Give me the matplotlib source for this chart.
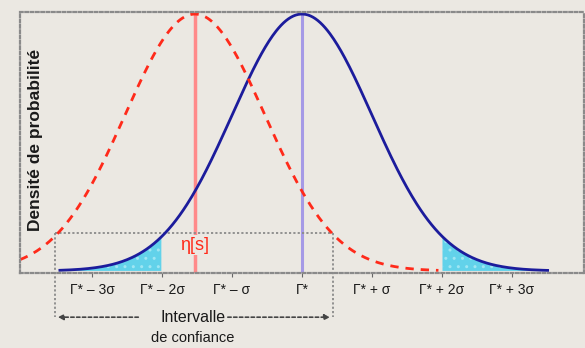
import matplotlib
matplotlib.use("Agg")
import matplotlib.pyplot as plt
import numpy as np

# parametres des deux densites (unites de sigma, pic normalise a 1)
mu_vrai = 0.0
mu_estime = -1.53
sigma = 1.0

tick_pos = [-3, -2, -1, 0, 1, 2, 3]
tick_labels = ["Γ* – 3σ", "Γ* – 2σ", "Γ* – σ", "Γ*", "Γ* + σ", "Γ* + 2σ", "Γ* + 3σ"]

bord_inf, bord_sup = -3.53, 0.44   # intervalle de confiance
fond = "#ebe8e2"


def densite(x, mu):
    return np.exp(-0.5 * ((x - mu) / sigma) ** 2)


plt.rcParams["font.family"] = ["Liberation Sans", "DejaVu Sans"]

fig = plt.figure(figsize=(5.85, 3.48), dpi=100, facecolor=fond)
ax = fig.add_axes([20 / 585, 75 / 348, 564 / 585, 261 / 348])
ax.set_facecolor(fond)
ax.set_xlim(-4.03, 4.03)
ax.set_ylim(-0.008, 1.008)

for s in ax.spines.values():
    s.set_linestyle((0, (1.2, 1.2)))
    s.set_color("#8a8a8a")
    s.set_linewidth(1.6)

# courbe bleue (vraie valeur)
xb = np.linspace(-3.46, 3.51, 400)
yb = densite(xb, mu_vrai)
ax.fill_between(xb, 0, yb, where=xb <= -2, color="#62d2ea", hatch="..",
                edgecolor="#9fe6f3", linewidth=0)
ax.fill_between(xb, 0, yb, where=xb >= 2, color="#62d2ea", hatch="..",
                edgecolor="#9fe6f3", linewidth=0)
ax.plot(xb, yb, color="#1c1c9c", lw=2)

# courbe rouge (estimation)
xr = np.linspace(-4.03, 1.95, 400)
ax.plot(xr, densite(xr, mu_estime), color="#ff2a1a", lw=2,
        dashes=(3, 2.5))

# droites verticales
ax.plot([mu_estime, mu_estime], [0, 1], color="#ff8a8a", lw=2.5, zorder=1)
ax.plot([mu_vrai, mu_vrai], [0, 1], color="#a59ae6", lw=2.2, zorder=1)

ax.text(mu_estime, 0.1, "η[s]", color="#ff2a1a", fontsize=13,
        ha="center", va="center",
        bbox=dict(facecolor=fond, edgecolor="none", pad=1))

# intervalle de confiance
y_h = np.exp(-2) + 0.013
ax.plot([bord_inf, bord_sup], [y_h, y_h], color="#8a8a8a", lw=1.3,
        ls=(0, (1.2, 1.2)), zorder=1)
y_fl = -0.18
for xv in (bord_inf, bord_sup):
    ax.plot([xv, xv], [y_h, y_fl], color="#8a8a8a", lw=1.3,
            ls=(0, (1.2, 1.2)), clip_on=False)
ax.annotate("", xy=(bord_inf, y_fl), xytext=(-2.3, y_fl), annotation_clip=False,
            arrowprops=dict(arrowstyle="-|>", color="#444444", lw=1.2,
                            ls=(0, (2, 1.5)), mutation_scale=8))
ax.annotate("", xy=(bord_sup, y_fl), xytext=(-1.1, y_fl), annotation_clip=False,
            arrowprops=dict(arrowstyle="-|>", color="#444444", lw=1.2,
                            ls=(0, (2, 1.5)), mutation_scale=8))
ax.text(-1.56, y_fl, "Intervalle", fontsize=11.5, ha="center", va="center",
        color="#1a1a1a", bbox=dict(facecolor=fond, edgecolor="none", pad=1))
ax.text(-1.56, -0.26, "de confiance", fontsize=10.5, ha="center",
        va="center", color="#1a1a1a")

ax.set_xticks(tick_pos)
ax.set_xticklabels(tick_labels, fontsize=10, color="#1a1a1a")
ax.tick_params(axis="x", length=3, color="#666666", pad=4)
ax.set_yticks([])

ax.set_ylabel("Densité de probabilité", fontsize=12.5, fontweight="bold",
              color="#1a1a1a")
ax.yaxis.set_label_coords(0.04, 0.51)

fig.savefig("out.png", dpi=100, facecolor=fond)
